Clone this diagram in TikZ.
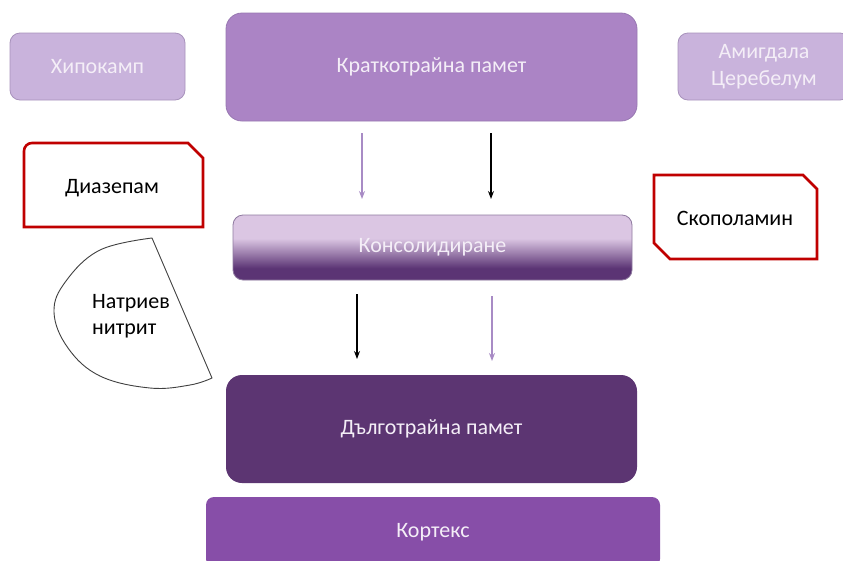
\documentclass[tikz,border=0pt]{standalone}
\usepackage{fontspec}
\setmainfont{Carlito}
\usetikzlibrary{arrows.meta}

\definecolor{paleviolet}{HTML}{C9B3DC}
\definecolor{paleedge}{HTML}{A892BC}
\definecolor{midviolet}{HTML}{AB84C5}
\definecolor{midedge}{HTML}{9878B2}
\definecolor{deepviolet}{HTML}{5C3572}
\definecolor{cortexviolet}{HTML}{874EA8}
\definecolor{consollight}{HTML}{DBC6E3}
\definecolor{consoldark}{HTML}{5B3474}
\definecolor{consoledge}{HTML}{8F7AA0}
\definecolor{drugred}{HTML}{C00000}
\definecolor{lilac}{HTML}{A88BC5}
\definecolor{softwhite}{HTML}{F4EEF7}

% light upper part fading into a deep violet base
\pgfdeclareverticalshading{consolfade}{100bp}{%
  color(0bp)=(consoldark); color(25bp)=(consoldark); color(34bp)=(consoldark);
  color(57bp)=(consollight); color(75bp)=(consollight); color(100bp)=(consollight)}

\begin{document}
\begin{tikzpicture}[x=1pt,y=-1pt,
  every node/.style={font=\fontsize{22}{26.5}\selectfont, inner sep=0pt},
  sidebox/.style={draw=paleedge, fill=paleviolet, text=softwhite, rounded corners=10pt, line width=0.8pt},
  memorybox/.style={rounded corners=16pt, text=softwhite},
  drugline/.style={draw=drugred, line width=2.6pt, line join=miter},
  lilacarrow/.style={draw=lilac, line width=1.1pt, -{Stealth[length=8pt,width=6pt]}},
  blackarrow/.style={draw=black, line width=1.1pt, -{Stealth[length=8pt,width=6pt]}}]

\clip (0,0) rectangle (843,560);
\fill[white] (0,0) rectangle (843,560);

% brain regions and memory stages
\node[sidebox, minimum width=175pt, minimum height=67pt] (hipo) at (97.5,66.5) {Хипокамп};
\node[sidebox, minimum width=172pt, minimum height=67pt, align=center] (amig) at (764,66.5)
  {Амигдала\\Церебелум};
\node[memorybox, fill=midviolet, draw=midedge, line width=0.8pt,
  minimum width=411pt, minimum height=108pt] (short) at (431.5,67) {Краткотрайна памет};
\node[rounded corners=10pt, shading=consolfade, draw=consoledge, line width=0.8pt, text=softwhite,
  minimum width=399pt, minimum height=65pt] (consol) at (432.5,247.5) {Консолидиране};
\node[memorybox, fill=deepviolet, minimum width=411pt, minimum height=108pt] (long) at (431.5,429)
  {Дълготрайна памет};
\node[rounded corners=8pt, fill=cortexviolet, text=softwhite,
  minimum width=454pt, minimum height=70pt] (cortex) at (433,532) {Кортекс};

% drugs
\draw[drugline] (24,227) -- (24,151) arc[start angle=180, end angle=270, x radius=8pt, y radius=-8pt]
  -- (188,143) -- (203,158) -- (203,227) -- cycle;
\node (diaz) at (112,188) {Диазепам};

\draw[drugline] (654,175) -- (803,175) -- (817,189) -- (817,259) -- (670,259) -- (654,243) -- cycle;
\node (scop) at (735,218) {Скополамин};

\draw[draw=black!75, line width=0.9pt, line join=round]
  plot[smooth, tension=0.65] coordinates {(152,238) (100,250) (66,281) (54,312) (68,348)
    (100,376) (150,388) (190,385) (212,378)} -- cycle;
\node[align=left, anchor=west] (nitr) at (92,316) {Натриев\\нитрит};

% transitions between the stages
\coordinate (s1a) at (362,133); \coordinate (e1a) at (362,199);
\coordinate (s1b) at (491,133); \coordinate (e1b) at (491,199);
\coordinate (s2a) at (357,294); \coordinate (e2a) at (357,359);
\coordinate (s2b) at (492,296); \coordinate (e2b) at (492,361);
\draw[lilacarrow] (s1a) -- (e1a);
\draw[blackarrow] (s1b) -- (e1b);
\draw[blackarrow] (s2a) -- (e2a);
\draw[lilacarrow] (s2b) -- (e2b);
\end{tikzpicture}
\end{document}
